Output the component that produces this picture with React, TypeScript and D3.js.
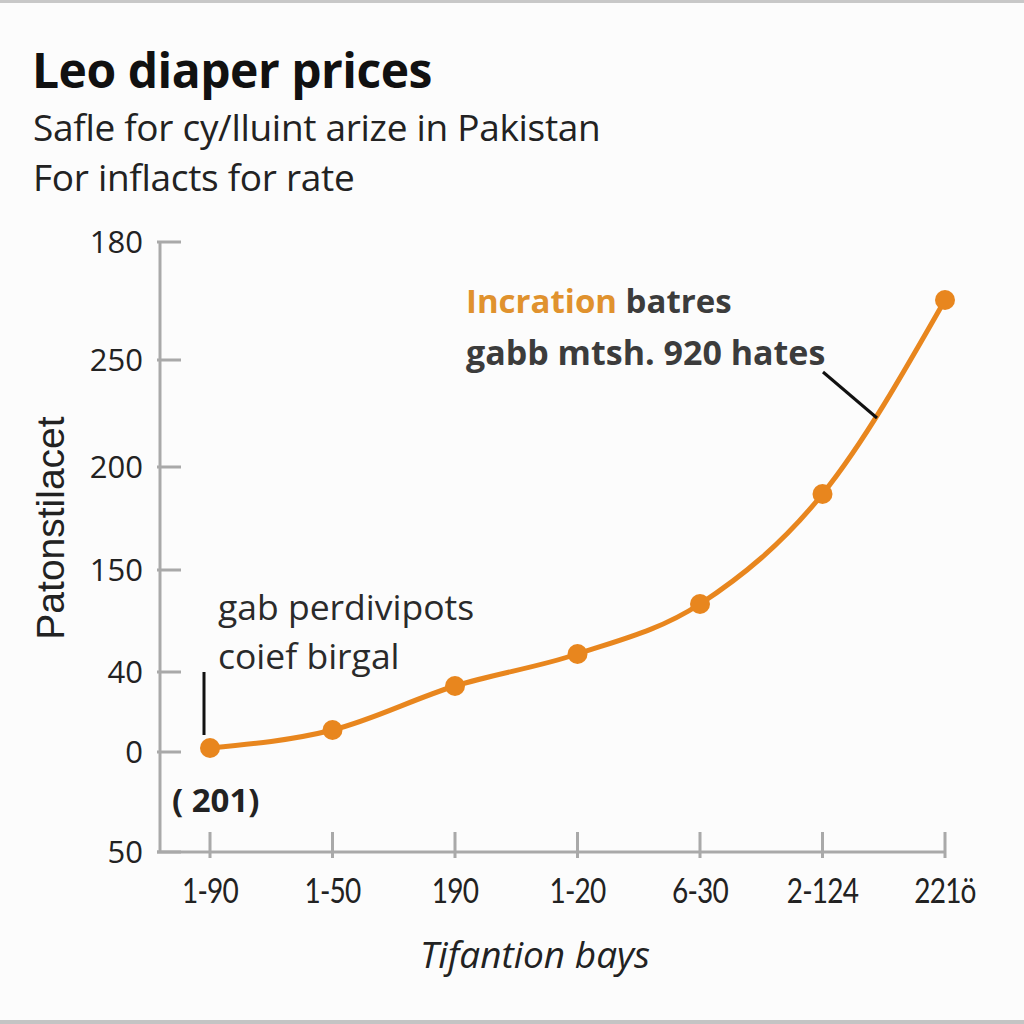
import React from "react";
import * as d3 from "d3";

const W = 1024;
const H = 1024;

const categories = ["1-90", "1-50", "190", "1-20", "6-30", "2-124", "221ö"];
const values = [52, 61, 83, 99, 124, 179, 276];
const yTickValues = [305, 246, 192.5, 141, 90, 50, 0];
const yTickLabels = ["180", "250", "200", "150", "40", "0", "50"];

const title = "Leo diaper prices";
const subtitle1 = "Safle for cy/lluint arize in Pakistan";
const subtitle2 = "For inflacts for rate";
const yTitle = "Patonstilacet";
const xTitle = "Tifantion bays";

const ORANGE = "#E8861E";
const AXIS = "#a9a9a9";
const FONT = "'Open Sans', sans-serif";
const FONT_L = "Lato, sans-serif";
const FONT2 = "'Liberation Sans', Arial, sans-serif";

export default function App() {
  const left = 160;
  const x = d3.scalePoint<string>().domain(categories).range([210, 945]);
  const y = d3.scaleLinear().domain([0, 305]).range([852, 242]);

  const pts: [number, number][] = categories.map((c, i) => [x(c) as number, y(values[i])]);
  const line = d3.line().curve(d3.curveMonotoneX)(pts) as string;

  return (
    <div style={{ position: "fixed", left: 0, top: 0, width: W, height: H }}>
      <svg width={W} height={H} viewBox={`0 0 ${W} ${H}`}>
        <rect x={0} y={0} width={W} height={H} fill="#fcfcfc" />
        <rect x={0} y={0} width={W} height={3} fill="#c8c8c8" />
        <rect x={0} y={H - 4} width={W} height={4} fill="#c4c4c4" />

        <text x={32} y={88} fontFamily={FONT} fontWeight={700} fontSize={48} fill="#111" style={{ letterSpacing: "-0.5px" }}>
          {title}
        </text>
        <text x={33} y={141} fontFamily={FONT} fontSize={37} fill="#222" style={{ letterSpacing: "-0.3px" }}>
          {subtitle1}
        </text>
        <text x={33} y={191} fontFamily={FONT} fontSize={37} fill="#222" style={{ letterSpacing: "-0.3px" }}>
          {subtitle2}
        </text>

        {/* y axis */}
        <line x1={left} x2={left} y1={y(305)} y2={y(0)} stroke={AXIS} strokeWidth={3} />
        {yTickValues.map((v, i) => (
          <g key={i}>
            <line x1={left - 3} x2={left + 21} y1={y(v)} y2={y(v)} stroke={AXIS} strokeWidth={3} />
            <text
              x={143}
              y={y(v)}
              dy="0.36em"
              textAnchor="end"
              fontFamily={FONT}
              fontSize={31}
              fill="#222"
            >
              {yTickLabels[i]}
            </text>
          </g>
        ))}

        {/* x axis */}
        <line x1={left - 3} x2={x(categories[categories.length - 1]) as number} y1={y(0)} y2={y(0)} stroke={AXIS} strokeWidth={3} />
        {categories.map((c) => (
          <g key={c}>
            <line x1={x(c) as number} x2={x(c) as number} y1={y(0) - 20} y2={y(0) + 6} stroke={AXIS} strokeWidth={3} />
            <text
              transform={`translate(${x(c) as number}, 890) scale(0.8, 1)`}
              dy="0.36em"
              textAnchor="middle"
              fontFamily={FONT_L}
              fontSize={35}
              fill="#222"
              style={{ letterSpacing: "-1px" }}
            >
              {c}
            </text>
          </g>
        ))}

        <text
          transform={`translate(50, 528) rotate(-90)`}
          textAnchor="middle"
          dy="0.36em"
          fontFamily={FONT2}
          fontSize={39}
          fill="#222"
        >
          {yTitle}
        </text>
        <text x={535} y={955} dy="0.36em" textAnchor="middle" fontFamily={FONT} fontStyle="italic" fontSize={37} fill="#222">
          {xTitle}
        </text>

        {/* line */}
        <path d={line} fill="none" stroke={ORANGE} strokeWidth={5} strokeLinejoin="round" />
        {pts.map((p, i) => (
          <circle key={i} cx={p[0]} cy={p[1]} r={10} fill={ORANGE} />
        ))}

        {/* annotations */}
        <text x={466} y={313} fontFamily={FONT} fontWeight={700} fontSize={33}>
          <tspan fill="#E0922E">Incration</tspan>
          <tspan fill="#3c3c3c"> batres</tspan>
        </text>
        <text x={466} y={365} fontFamily={FONT} fontWeight={700} fontSize={34} fill="#3c3c3c">
          gabb mtsh. 920 hates
        </text>
        <line x1={823} x2={877} y1={372} y2={418} stroke="#111" strokeWidth={3} />

        <text x={218} y={620} fontFamily={FONT} fontSize={35.5} fill="#2a2a2a">
          gab perdivipots
        </text>
        <text x={218} y={669} fontFamily={FONT} fontSize={35.5} fill="#2a2a2a">
          coief birgal
        </text>
        <line x1={204} x2={204} y1={672} y2={735} stroke="#111" strokeWidth={3} />
        <text x={172} y={812} fontFamily={FONT} fontWeight={700} fontSize={33} fill="#222">
          ( 201)
        </text>
      </svg>
    </div>
  );
}
